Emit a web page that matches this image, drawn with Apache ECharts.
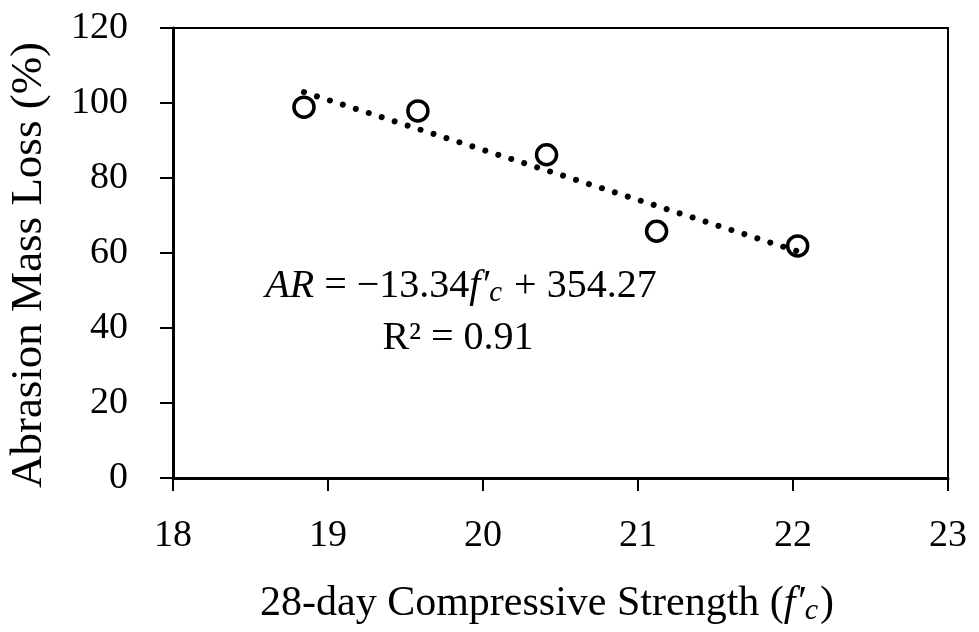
<!DOCTYPE html>
<html>
<head>
<meta charset="utf-8">
<script src="https://cdn.jsdelivr.net/npm/echarts@6/dist/echarts.min.js"></script>
<style>html,body{margin:0;padding:0;background:#fff}#c{width:979px;height:632px}</style>
</head>
<body>
<div id="c"></div>
<script>
// Data
var strength = [18.845, 19.58, 20.41, 21.12, 22.03];
var massLoss = [98.9, 97.9, 86.2, 65.8, 61.9];
var trendX = [18.845, 22.025];
var trendY = [102.9, 60.5];
var xTicks = [18, 19, 20, 21, 22, 23];
var yTicks = [0, 20, 40, 60, 80, 100, 120];

var FONT = 'Liberation Serif';
var chart = echarts.init(document.getElementById('c'), null, {renderer: 'canvas'});

var points = strength.map(function (x, i) { return [x, massLoss[i]]; });
var trend = trendX.map(function (x, i) { return [x, trendY[i]]; });

chart.setOption({
  animation: false,
  backgroundColor: '#fff',
  grid: {left: 173, right: 31, top: 28, bottom: 154, show: true, borderColor: '#000', borderWidth: 2},
  xAxis: {
    type: 'value', min: xTicks[0], max: xTicks[xTicks.length - 1], interval: 1,
    axisLine: {show: true, onZero: false, lineStyle: {color: '#000', width: 3}},
    axisTick: {show: true, inside: false, length: 13, lineStyle: {color: '#000', width: 2}},
    axisLabel: {color: '#000', fontFamily: FONT, fontSize: 38, margin: 39},
    splitLine: {show: false}
  },
  yAxis: {
    type: 'value', min: yTicks[0], max: yTicks[yTicks.length - 1], interval: 20,
    axisLine: {show: true, onZero: false, lineStyle: {color: '#000', width: 3}},
    axisTick: {show: true, inside: false, length: 13, lineStyle: {color: '#000', width: 2}},
    axisLabel: {color: '#000', fontFamily: FONT, fontSize: 38, margin: 45},
    splitLine: {show: false}
  },
  series: [
    {
      type: 'scatter', data: points, symbol: 'circle', symbolSize: 20, z: 2,
      itemStyle: {color: '#fff', borderColor: '#000', borderWidth: 3.5, opacity: 1}
    },
    {
      type: 'line', data: trend, symbol: 'none', z: 3,
      lineStyle: {color: '#000', width: 6, type: [0.01, 13.6], cap: 'round', opacity: 1}
    }
  ],
  graphic: [
    {
      type: 'text', x: 547, y: 604,
      style: {
        align: 'center', verticalAlign: 'middle',
        text: '28-day Compressive Strength ({i|f′}{sub|c})',
        fontFamily: FONT, fontSize: 42, fill: '#000',
        rich: {
          i: {fontFamily: FONT, fontSize: 42, fontStyle: 'italic'},
          sub: {fontFamily: FONT, fontSize: 30, fontStyle: 'italic', padding: [14, 2, 0, 0]}
        }
      }
    },
    {
      type: 'text', x: 29, y: 265, rotation: Math.PI / 2,
      style: {
        align: 'center', verticalAlign: 'middle',
        text: 'Abrasion Mass Loss (%)',
        fontFamily: FONT, fontSize: 45, fill: '#000'
      }
    },
    {
      type: 'text', x: 461, y: 286,
      style: {
        align: 'center', verticalAlign: 'middle',
        text: '{i|AR} = −13.34{i|f′}{sub|c} + 354.27',
        fontFamily: FONT, fontSize: 40, fill: '#000',
        rich: {
          i: {fontFamily: FONT, fontSize: 40, fontStyle: 'italic'},
          sub: {fontFamily: FONT, fontSize: 29, fontStyle: 'italic', padding: [14, 2, 0, 0]}
        }
      }
    },
    {
      type: 'text', x: 458, y: 338,
      style: {
        align: 'center', verticalAlign: 'middle',
        text: 'R² = 0.91',
        fontFamily: FONT, fontSize: 40, fill: '#000'
      }
    }
  ]
});
</script>
</body>
</html>
